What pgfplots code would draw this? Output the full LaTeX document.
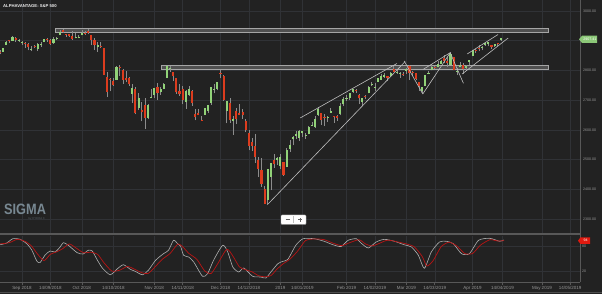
\documentclass[border=0pt]{standalone}
\usepackage{pgfplots}
\usepackage{pgfplotstable}
\pgfplotsset{compat=1.18}
\usepackage{fontspec}
\setmainfont{Liberation Sans}
\definecolor{bg}{RGB}{34,34,34}
\definecolor{gridc}{RGB}{48,50,54}
\definecolor{labc}{RGB}{150,150,150}
\definecolor{upc}{RGB}{145,210,120}
\definecolor{dnc}{RGB}{220,60,30}
\definecolor{wickc}{RGB}{140,140,140}
\definecolor{trendc}{RGB}{190,190,190}
\definecolor{bandfill}{RGB}{80,80,80}
\definecolor{bandedge}{RGB}{165,165,165}
\definecolor{axc}{RGB}{88,88,88}
\definecolor{kc}{RGB}{175,175,175}
\definecolor{dc}{RGB}{185,20,20}
\definecolor{logoc}{RGB}{120,136,146}
\definecolor{tagg}{RGB}{140,200,120}
\definecolor{tagr}{RGB}{225,25,15}

\pgfplotstableread{
i o h l c
-7 2860.3 2868.8 2854.0 2856.98
-6 2862.4 2876.2 2862.4 2874.69
-5 2884.7 2898.3 2884.7 2896.74
-4 2901.5 2903.8 2893.5 2897.52
-3 2900.6 2916.5 2898.4 2914.04
-2 2908.9 2912.5 2895.2 2901.13
-1 2898.4 2906.3 2895.8 2901.52
0 2891.0 2900.2 2885.1 2896.72
1 2891.6 2894.2 2876.9 2888.60
2 2888.6 2892.1 2867.3 2878.05
3 2868.3 2883.8 2864.1 2871.68
4 2881.4 2886.9 2875.9 2877.13
5 2871.6 2892.5 2866.8 2887.89
6 2884.0 2894.7 2879.9 2888.92
7 2896.9 2906.3 2896.4 2904.18
8 2906.4 2908.3 2895.8 2904.98
9 2903.8 2904.7 2886.2 2888.80
10 2890.7 2911.2 2890.4 2904.31
11 2906.6 2912.4 2903.8 2907.95
12 2919.7 2934.8 2919.7 2930.75
13 2936.8 2940.9 2927.1 2929.67
14 2921.8 2923.8 2912.6 2919.37
15 2921.8 2923.8 2913.5 2915.56
16 2916.9 2931.1 2903.3 2905.97
17 2908.0 2927.2 2907.5 2914.00
18 2910.0 2920.5 2907.5 2913.98
19 2918.0 2937.1 2917.9 2924.59
20 2926.3 2931.4 2919.4 2923.43
21 2931.7 2939.9 2921.4 2925.51
22 2919.4 2919.8 2883.9 2901.61
23 2902.5 2909.6 2869.3 2885.57
24 2877.5 2894.8 2862.0 2884.43
25 2882.5 2894.8 2874.3 2880.34
26 2873.9 2874.0 2784.9 2785.68
27 2776.9 2795.1 2710.5 2728.37
28 2770.5 2775.8 2729.4 2767.13
29 2763.8 2776.0 2749.0 2750.79
30 2767.1 2813.5 2766.9 2809.92
31 2811.7 2816.9 2781.8 2809.21
32 2802.0 2806.0 2755.2 2768.78
33 2775.7 2797.8 2760.3 2767.78
34 2773.9 2778.9 2749.2 2755.88
35 2721.0 2753.6 2691.4 2740.69
36 2737.9 2742.6 2651.9 2656.10
37 2674.9 2722.7 2667.8 2705.57
38 2667.9 2692.4 2628.2 2658.69
39 2682.7 2706.9 2603.5 2641.25
40 2640.7 2685.4 2635.3 2682.63
41 2705.6 2736.7 2705.6 2711.74
42 2717.6 2741.7 2705.6 2740.37
43 2745.5 2756.6 2700.4 2723.06
44 2726.4 2744.3 2717.9 2738.31
45 2738.4 2756.8 2737.1 2755.45
46 2774.1 2815.2 2774.1 2813.89
47 2806.4 2814.8 2794.9 2806.83
48 2794.1 2794.1 2764.2 2781.01
49 2773.9 2775.9 2722.0 2726.22
50 2730.1 2754.6 2715.0 2722.18
51 2737.9 2746.8 2685.8 2701.58
52 2693.5 2735.4 2670.8 2730.20
53 2718.5 2746.8 2712.2 2736.27
54 2730.7 2733.2 2681.1 2690.73
55 2654.6 2669.4 2631.5 2641.89
56 2657.7 2670.7 2649.8 2649.93
57 2633.4 2647.6 2631.1 2632.56
58 2650.0 2674.4 2650.0 2673.45
59 2663.8 2682.5 2655.9 2682.17
60 2691.5 2744.0 2684.4 2743.79
61 2737.0 2753.8 2722.9 2737.80
62 2737.8 2760.9 2732.8 2760.17
63 2790.5 2800.2 2773.4 2790.37
64 2782.4 2785.9 2697.2 2700.06
65 2663.5 2696.1 2621.5 2695.95
66 2691.3 2708.5 2623.1 2633.08
67 2630.9 2647.5 2583.2 2637.72
68 2664.4 2674.4 2621.3 2636.78
69 2658.2 2685.4 2650.3 2651.07
70 2658.7 2670.2 2637.3 2650.54
71 2629.7 2635.1 2593.8 2599.95
72 2590.8 2601.1 2530.5 2545.94
73 2559.9 2574.0 2528.7 2546.16
74 2547.1 2585.3 2489.0 2506.96
75 2496.8 2509.6 2441.2 2467.42
76 2465.4 2504.4 2408.6 2416.62
77 2400.6 2410.3 2351.1 2351.10
78 2363.1 2467.8 2346.6 2467.70
79 2442.5 2489.1 2397.9 2488.83
80 2498.8 2520.3 2472.9 2485.74
81 2498.9 2509.2 2482.8 2506.85
82 2477.0 2519.5 2467.5 2510.03
83 2491.9 2493.1 2444.0 2447.89
84 2474.3 2538.1 2474.3 2531.94
85 2535.6 2566.2 2524.6 2549.69
86 2568.1 2579.8 2547.6 2574.41
87 2580.0 2595.3 2568.9 2584.96
88 2573.5 2597.8 2562.0 2596.64
89 2588.1 2596.3 2577.4 2596.26
90 2580.3 2589.3 2570.4 2582.61
91 2585.1 2613.1 2585.1 2610.30
92 2614.8 2625.8 2612.7 2616.10
93 2609.3 2645.1 2606.4 2635.96
94 2651.3 2675.5 2647.6 2670.71
95 2657.9 2657.9 2617.3 2632.90
96 2643.5 2653.2 2612.9 2638.70
97 2638.8 2647.2 2627.0 2642.33
98 2657.4 2672.4 2657.3 2664.76
99 2645.0 2645.0 2624.1 2643.85
100 2644.9 2650.9 2631.1 2640.00
101 2653.6 2690.4 2648.3 2681.05
102 2685.5 2709.0 2678.7 2704.10
103 2702.3 2716.7 2696.9 2706.53
104 2706.5 2725.0 2698.8 2724.87
105 2728.3 2739.0 2724.0 2737.70
106 2735.1 2738.1 2724.2 2731.61
107 2717.5 2719.3 2687.3 2706.05
108 2692.4 2708.1 2681.8 2707.88
109 2712.4 2718.1 2703.9 2709.80
110 2722.6 2748.2 2722.6 2744.73
111 2750.3 2761.9 2748.6 2753.03
112 2743.5 2757.9 2731.2 2745.73
113 2760.2 2775.7 2760.2 2775.60
114 2769.3 2787.3 2767.3 2779.76
115 2779.1 2789.9 2774.1 2784.70
116 2780.7 2781.6 2764.6 2774.88
117 2780.7 2794.2 2779.1 2792.67
118 2804.4 2813.5 2795.0 2796.11
119 2792.4 2803.1 2789.5 2793.90
120 2787.5 2795.8 2775.1 2792.38
121 2788.1 2793.7 2782.5 2784.49
122 2798.2 2808.0 2787.4 2803.69
123 2814.4 2816.9 2767.7 2792.81
124 2794.4 2796.4 2782.0 2789.65
125 2790.3 2790.3 2768.7 2771.45
126 2760.2 2760.2 2732.3 2748.93
127 2730.8 2744.1 2722.3 2743.07
128 2747.6 2784.0 2747.6 2783.30
129 2787.3 2798.3 2786.7 2791.52
130 2799.8 2821.2 2799.8 2810.92
131 2810.4 2815.0 2803.5 2808.48
132 2810.8 2830.7 2810.8 2822.48
133 2822.6 2835.4 2822.0 2832.94
134 2840.8 2852.4 2823.4 2832.57
135 2831.3 2843.5 2812.4 2824.23
136 2819.7 2860.3 2817.4 2854.88
137 2844.5 2846.2 2800.5 2800.71
138 2796.0 2809.8 2785.0 2798.36
139 2812.7 2829.9 2812.7 2818.46
140 2819.7 2825.6 2787.7 2805.37
141 2809.4 2819.7 2798.8 2815.44
142 2828.3 2836.0 2819.2 2834.40
143 2848.6 2869.4 2848.6 2867.19
144 2868.2 2872.9 2858.8 2867.24
145 2876.1 2885.2 2865.2 2873.40
146 2874.0 2881.3 2867.1 2879.39
147 2884.2 2893.2 2883.0 2892.74
148 2888.5 2896.0 2880.8 2895.77
149 2886.6 2886.9 2873.3 2878.20
150 2881.4 2889.7 2879.1 2888.21
151 2891.9 2893.4 2882.0 2888.32
152 2900.9 2910.5 2898.4 2907.41
}\candles

\begin{document}
\begin{tikzpicture}
\fill[bg] (0,0) rectangle (602pt,294pt);
\useasboundingbox (0,0) rectangle (602pt,294pt);

% ---------- main price panel ----------
\begin{axis}[
  at={(0pt,294pt)}, anchor=north west,
  scale only axis, width=580pt, height=233pt,
  xmin=-6.98, xmax=177.1, ymin=2252.8, ymax=3037,
  axis line style={draw=none},
  xtick={0,9,19,29,42,51,63,72,82,89,103,112,122,131,143,152.5,165,174},
  xticklabels={},
  ytick={2300,2400,2500,2600,2700,2800,2900,3000},
  yticklabels={2300.00,2400.00,2500.00,2600.00,2700.00,2800.00,2900.00,3000.00},
  yticklabel pos=right,
  major tick length=0pt, tick style={draw=none},
  grid=major, grid style={gridc, line width=0.5pt},
  yticklabel style={font=\fontsize{3.6}{4}\selectfont, text=labc, inner sep=0pt, xshift=3pt},
]
% bands
\addplot[draw=bandedge, fill=bandfill, line width=0.8pt] coordinates {(10.5,2927.6) (167,2927.6) (167,2942.8) (10.5,2942.8)} -- cycle;
\addplot[draw=bandedge, fill=bandfill, line width=0.8pt] coordinates {(44.4,2801.8) (167,2801.8) (167,2816.9) (44.4,2816.9)} -- cycle;
% wicks
\addplot[draw=none, mark=none, error bars/.cd, y dir=plus, y explicit, error mark=none,
  error bar style={draw=wickc, line width=0.6pt, solid}]
  table[x=i, y=l, y error expr=\thisrow{h}-\thisrow{l}] \candles;
% up bodies
\addplot[draw=none, mark=none, restrict expr to domain={\thisrow{c}-\thisrow{o}}{0:1000},
  error bars/.cd, y dir=plus, y explicit, error mark=none,
  error bar style={draw=upc, line width=2.1pt, solid, line cap=butt}]
  table[x=i, y=o, y error expr=\thisrow{c}-\thisrow{o}] \candles;
% down bodies
\addplot[draw=none, mark=none, restrict expr to domain={\thisrow{o}-\thisrow{c}}{0.0001:1000},
  error bars/.cd, y dir=plus, y explicit, error mark=none,
  error bar style={draw=dnc, line width=2.1pt, solid, line cap=butt}]
  table[x=i, y=c, y error expr=\thisrow{o}-\thisrow{c}] \candles;
% trend lines
\addplot[trendc, line width=0.6pt] coordinates {(78.1,2350.4) (121.6,2830.0)};
\addplot[trendc, line width=0.6pt] coordinates {(88.3,2640.0) (119.0,2823.3)};
\addplot[trendc, line width=0.6pt] coordinates {(121.3,2831.7) (127.2,2720.6)};
\addplot[trendc, line width=0.6pt] coordinates {(127.2,2720.6) (135.9,2859.6)};
\addplot[trendc, line width=0.6pt] coordinates {(127.4,2803.8) (135.9,2859.6)};
\addplot[trendc, line width=0.6pt] coordinates {(135.9,2859.6) (140.1,2756.6)};
\addplot[trendc, line width=0.6pt] coordinates {(139.7,2788.0) (154.3,2909.1)};
\addplot[trendc, line width=0.6pt] coordinates {(141.3,2855.3) (151.1,2920.9)};
\end{axis}

% ---------- oscillator panel ----------
\begin{axis}[
  at={(0pt,58pt)}, anchor=north west,
  scale only axis, width=580pt, height=46pt,
  xmin=-6.98, xmax=177.1, ymin=-6.4, ymax=104,
  axis line style={draw=none},
  xtick={0,9,19,29,42,51,63,72,82,89,103,112,122,131,143,152.5,165,174},
  xticklabels={Sep 2018,14/09/2018,Oct 2018,14/10/2018,Nov 2018,14/11/2018,Dec 2018,14/12/2018,2019,14/01/2019,Feb 2019,14/02/2019,Mar 2019,14/03/2019,Apr 2019,14/04/2019,May 2019,14/05/2019},
  ytick={20,80}, yticklabels={20,80},
  yticklabel pos=right, xtick pos=bottom,
  tick align=outside, major tick length=3pt,
  xtick style={draw=axc, line width=0.6pt},
  ytick style={draw=none},
  grid=major, grid style={gridc, line width=0.5pt},
  xticklabel style={font=\fontsize{4.5}{5}\selectfont, text=labc, inner sep=1.2pt},
  yticklabel style={font=\fontsize{3.6}{4}\selectfont, text=labc, inner sep=0pt, xshift=-1pt},
]
\addplot[kc, line width=0.6pt, smooth, tension=0.4] coordinates {
(-7,83) (-4.9,87) (-2.9,97.5) (-0.6,96) (1.5,85.5) (3.1,70.4) (4.7,44) (5.7,40) (7.3,58) (8.9,68) (10.5,65.6) (12.1,77.6) (13.1,88) (14.6,82.4) (17.5,64) (19.4,60.8) (21,69.7) (22.3,68) (23.9,46.4) (25.5,27.2) (28,11) (30.3,25.5) (32.2,35) (34.4,24) (36,19) (38.2,11) (40.1,21.7) (42.4,45.7) (44.9,61.5) (46.5,69.7) (48.1,93.7) (49.4,85.5) (50.3,80) (51.3,57.7) (52.9,53.6) (54.5,41.6) (57.3,7.3) (58.9,13.5) (60.8,45.7) (63.7,81.7) (65.3,65.6) (66.9,29.6) (68.8,17.6) (70.4,27.2) (73.2,7.3) (75.8,5.6) (77.4,3.2) (79,17.6) (81.2,37.5) (82.8,43.3) (84.4,48) (86.9,81.7) (89.2,97.5) (92.7,97.5) (95.9,91.3) (98.7,83) (101.3,78.8) (103.5,93.7) (106.1,97.5) (107.6,87.2) (109.9,75.2) (112.4,89.6) (115,96) (118.2,91.3) (121.3,83) (123.6,77.6) (125.8,57.7) (127.7,26.5) (129.9,65.6) (132.5,89.6) (134.7,91.3) (136.9,85.5) (139.5,61.5) (142,61.5) (144.9,93.7) (148.4,98.5) (151.6,91.3) (152.9,94.4)};
\addplot[dc, line width=0.7pt, smooth, tension=0.4] coordinates {
(-7,85) (-4,88) (-1.5,96) (1,91) (3,80) (5,60) (7,45) (9,60) (11,66) (13,74) (15,85) (17,76) (19.5,64) (22,65) (24,60) (26,40) (28.5,20) (31,22) (33.5,31) (35.5,25) (38,16) (40,14) (42,28) (44.5,48) (47,62) (49.5,85) (51,78) (53,62) (55.5,48) (58,20) (60,14) (62,36) (65,72) (67,55) (69,30) (71,23) (73,18) (75,9) (77,6) (79,9) (81,25) (83,38) (85,48) (87.5,68) (90,93) (93,97) (96,95) (99,86) (101.5,81) (104,88) (107,95) (109,85) (111,80) (113,85) (116,94) (119,90) (122,85) (124.5,78) (127,55) (128.5,32) (130.5,45) (133,78) (135.5,89) (138,80) (140.5,62) (143,62) (145.5,82) (148.5,95) (151,92) (153,93)};
\end{axis}

% ---------- frame lines ----------
\draw[axc, line width=2pt] (0pt,59.5pt) -- (580pt,59.5pt);
\draw[axc, line width=0.8pt] (0pt,12pt) -- (580pt,12pt);
\draw[axc, line width=0.8pt] (580pt,12pt) -- (580pt,294pt);
\draw[axc!80!bg, line width=0.8pt] (0pt,1.3pt) -- (602pt,1.3pt);

% ---------- tags ----------
\fill[tagg] (579pt,254.7pt) -- (582pt,258.3pt) -- (597pt,258.3pt) -- (597pt,251.1pt) -- (582pt,251.1pt) -- cycle;
\node[font=\fontsize{3.6}{4}\selectfont, text=white, inner sep=0pt] at (589.8pt,254.7pt) {2907.41};
\fill[tagr] (578pt,53.3pt) -- (580.5pt,56.6pt) -- (590pt,56.6pt) -- (590pt,50pt) -- (580.5pt,50pt) -- cycle;
\node[font=\fontsize{3.6}{4}\selectfont, text=white, inner sep=0pt] at (585.5pt,53.3pt) {94};

% ---------- title, logo, buttons ----------
\node[anchor=west, font=\bfseries\fontsize{4.2}{5}\selectfont, text=white!88!gray, inner sep=0pt] at (3pt,288pt) {ALPHAVANTAGE: S\&P 500};
\node[anchor=base west, font=\bfseries\fontsize{15}{16}\selectfont, text=logoc, inner sep=0pt] at (4pt,79.5pt) {\scalebox{0.85}[1]{SIGMA}};
\node[anchor=base east, font=\fontsize{2.8}{3}\selectfont, text=logoc!60!bg, inner sep=0pt] at (45pt,74pt) {by HYDRA X};
\filldraw[fill=white, draw=gray!60, rounded corners=1pt, line width=0.4pt] (281pt,69.5pt) rectangle (306pt,79pt);
\draw[gray!50, line width=0.4pt] (293.5pt,71pt) -- (293.5pt,77.5pt);
\draw[gray!80!black, line width=0.9pt] (285.5pt,74.3pt) -- (289.5pt,74.3pt);
\draw[gray!80!black, line width=0.9pt] (298pt,74.3pt) -- (302pt,74.3pt);
\draw[gray!80!black, line width=0.9pt] (300pt,72.3pt) -- (300pt,76.3pt);
\end{tikzpicture}
\end{document}
